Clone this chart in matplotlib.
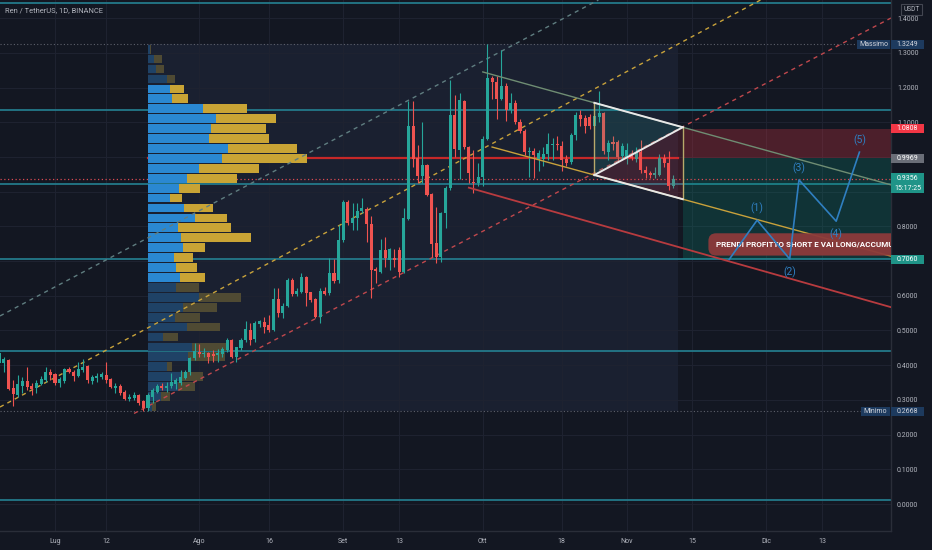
import numpy as np
import pandas as pd
import matplotlib
matplotlib.use("Agg")
import matplotlib.pyplot as plt
import matplotlib.dates as mdates
from matplotlib.patches import Rectangle, Polygon

plt.rcParams['font.family'] = ['Roboto', 'DejaVu Sans']

# ---------------- daily candles REN/USDT (first candle 2021-06-19) ----------------
first_day = "2021-06-19"
opens = [0.407, 0.407, 0.415, 0.333, 0.314, 0.340, 0.354, 0.341, 0.333, 0.346,
         0.357, 0.381, 0.374, 0.350, 0.355, 0.388, 0.381, 0.369, 0.386, 0.398,
         0.355, 0.362, 0.365, 0.372, 0.359, 0.333, 0.340, 0.324, 0.302, 0.305,
         0.314, 0.297, 0.276, 0.309, 0.324, 0.340, 0.335, 0.340, 0.347, 0.350,
         0.362, 0.381, 0.420, 0.439, 0.432, 0.436, 0.431, 0.429, 0.431, 0.444,
         0.473, 0.423, 0.449, 0.473, 0.501, 0.475, 0.519, 0.524, 0.516, 0.501,
         0.591, 0.551, 0.571, 0.646, 0.605, 0.612, 0.655, 0.610, 0.590, 0.540,
         0.615, 0.607, 0.667, 0.646, 0.761, 0.871, 0.809, 0.823, 0.843, 0.849,
         0.806, 0.678, 0.670, 0.732, 0.703, 0.709, 0.732, 0.668, 0.821, 1.089,
         0.996, 0.945, 0.977, 0.893, 0.753, 0.713, 0.838, 0.910, 1.121, 1.020,
         1.162, 1.028, 0.929, 0.924, 0.941, 1.051, 1.229, 1.217, 1.166, 1.206,
         1.134, 1.157, 1.102, 1.076, 1.013, 1.018, 0.993, 0.993, 1.008, 1.034,
         1.037, 1.032, 0.993, 0.987, 1.063, 1.121, 1.111, 1.114, 1.089, 1.114,
         1.126, 1.015, 1.044, 1.044, 1.003, 0.996, 1.006, 0.993, 1.015, 0.963,
         0.953, 0.948, 0.948, 0.996, 0.984, 0.915]
highs = [0.440, 0.425, 0.417, 0.356, 0.372, 0.365, 0.396, 0.350, 0.357, 0.369,
         0.394, 0.388, 0.378, 0.365, 0.391, 0.394, 0.386, 0.410, 0.417, 0.401,
         0.372, 0.377, 0.379, 0.410, 0.362, 0.350, 0.345, 0.329, 0.316, 0.324,
         0.316, 0.300, 0.319, 0.333, 0.346, 0.350, 0.353, 0.377, 0.362, 0.386,
         0.386, 0.425, 0.463, 0.461, 0.449, 0.439, 0.444, 0.446, 0.453, 0.477,
         0.475, 0.453, 0.477, 0.528, 0.523, 0.528, 0.530, 0.540, 0.545, 0.622,
         0.622, 0.578, 0.650, 0.650, 0.622, 0.667, 0.657, 0.612, 0.593, 0.622,
         0.624, 0.708, 0.705, 0.804, 0.876, 0.876, 0.868, 0.867, 0.881, 0.857,
         0.830, 0.684, 0.764, 0.769, 0.739, 0.734, 0.742, 0.854, 1.162, 1.160,
         1.035, 1.102, 0.980, 0.897, 0.857, 0.841, 0.915, 1.222, 1.179, 1.184,
         1.164, 1.032, 1.020, 0.982, 1.061, 1.3249, 1.233, 1.233, 1.308, 1.212,
         1.184, 1.165, 1.110, 1.082, 1.030, 1.025, 1.020, 1.030, 1.070, 1.055,
         1.060, 1.045, 1.005, 1.070, 1.130, 1.135, 1.120, 1.125, 1.140, 1.190,
         1.130, 1.050, 1.060, 1.050, 1.040, 1.040, 1.020, 1.030, 1.050, 0.975,
         0.960, 0.970, 1.010, 1.010, 1.018, 0.948]
lows = [0.405, 0.381, 0.328, 0.281, 0.309, 0.320, 0.329, 0.314, 0.321, 0.343,
        0.353, 0.357, 0.343, 0.336, 0.350, 0.377, 0.355, 0.365, 0.381, 0.350,
        0.346, 0.353, 0.359, 0.350, 0.333, 0.319, 0.314, 0.300, 0.298, 0.300,
        0.285, 0.2668, 0.269, 0.290, 0.321, 0.329, 0.324, 0.333, 0.331, 0.343,
        0.359, 0.372, 0.415, 0.425, 0.425, 0.405, 0.410, 0.410, 0.425, 0.439,
        0.420, 0.410, 0.444, 0.468, 0.458, 0.468, 0.511, 0.492, 0.497, 0.4995,
        0.540, 0.535, 0.569, 0.599, 0.598, 0.609, 0.571, 0.583, 0.535, 0.523,
        0.602, 0.602, 0.638, 0.636, 0.756, 0.804, 0.790, 0.790, 0.838, 0.756,
        0.593, 0.636, 0.665, 0.684, 0.674, 0.684, 0.655, 0.665, 0.818, 0.972,
        0.924, 0.924, 0.888, 0.713, 0.694, 0.698, 0.794, 0.905, 1.001, 0.938,
        1.022, 0.924, 0.895, 0.915, 0.915, 1.049, 1.166, 1.109, 1.164, 1.104,
        1.128, 1.095, 1.068, 1.005, 0.943, 0.940, 0.960, 0.975, 0.990, 0.990,
        1.020, 0.960, 0.975, 0.980, 1.050, 1.090, 1.070, 1.080, 1.080, 1.100,
        1.010, 0.990, 1.020, 0.985, 0.990, 0.980, 0.990, 0.985, 0.955, 0.940,
        0.940, 0.940, 0.945, 0.970, 0.905, 0.910]
closes = [0.434, 0.417, 0.330, 0.317, 0.346, 0.355, 0.338, 0.330, 0.350, 0.359,
          0.381, 0.373, 0.350, 0.359, 0.388, 0.380, 0.369, 0.388, 0.396, 0.357,
          0.365, 0.369, 0.374, 0.357, 0.336, 0.340, 0.319, 0.303, 0.309, 0.314,
          0.290, 0.276, 0.314, 0.329, 0.340, 0.333, 0.340, 0.353, 0.356, 0.365,
          0.381, 0.420, 0.441, 0.431, 0.436, 0.423, 0.427, 0.434, 0.447, 0.473,
          0.423, 0.451, 0.473, 0.503, 0.473, 0.523, 0.526, 0.511, 0.501, 0.591,
          0.550, 0.571, 0.646, 0.605, 0.614, 0.655, 0.609, 0.588, 0.540, 0.615,
          0.605, 0.667, 0.643, 0.761, 0.871, 0.809, 0.825, 0.843, 0.852, 0.806,
          0.674, 0.672, 0.732, 0.708, 0.734, 0.703, 0.668, 0.825, 1.089, 0.994,
          0.945, 0.977, 0.891, 0.749, 0.713, 0.838, 0.912, 1.121, 1.022, 1.164,
          1.028, 0.955, 0.924, 0.943, 1.051, 1.229, 1.217, 1.166, 1.206, 1.135,
          1.157, 1.102, 1.076, 1.013, 1.018, 1.006, 1.011, 1.008, 1.038, 1.037,
          1.034, 0.991, 0.984, 1.063, 1.121, 1.109, 1.089, 1.089, 1.118, 1.128,
          1.018, 1.039, 1.037, 1.001, 1.032, 1.020, 0.996, 1.015, 0.963, 0.953,
          0.948, 0.953, 0.996, 0.982, 0.915, 0.9356]

# ---------------- visible range volume profile (rows listed top -> bottom) ----------------
vp_range = ("2021-07-21", "2021-11-12")
vp_price_high = 1.3249
vp_price_low = 0.2668
vp_up = [2, 6, 8, 19, 22, 24, 55, 68, 63, 61, 79, 74, 51, 39, 31, 22, 36, 47, 30, 33,
         35, 26, 28, 32, 28, 51, 35, 27, 39, 15, 44, 40, 19, 33, 30, 13, 4]
vp_down = [1, 8, 8, 8, 14, 16, 43, 59, 54, 59, 69, 84, 59, 49, 21, 12, 29, 31, 52, 69,
           22, 19, 21, 25, 23, 41, 34, 25, 33, 15, 35, 36, 5, 22, 17, 9, 4]
vp_value_area = (4, 23)
poc_price = 0.996

# ---------------- horizontal levels ----------------
teal_levels = [1.444, 1.135, 0.922, 0.706, 0.441, 0.0115]
last_price = 0.9356
last_time = "15:17:25"

# ---------------- drawings (anchor: date, price) ----------------
up_channel_upper = [("2021-07-19", 0.753), ("2021-09-24", 1.227)]
up_channel_mid = [("2021-06-19", 0.2783), ("2021-11-06", 1.2822)]
up_channel_lower = [("2021-07-18", 0.2610), ("2021-11-17", 1.1150)]
wedge_upper = [("2021-10-01", 1.2451), ("2021-11-13", 1.0857)]
wedge_lower = [("2021-10-03", 1.0287), ("2021-11-13", 0.8784)]
down_channel = [("2021-09-28", 0.9116), ("2021-11-13", 0.7371)]
triangle_dates = ("2021-10-25", "2021-11-13")
position_start = "2021-11-13"
pos_entry, pos_stop, pos_target = 0.9969, 1.0808, 0.7060

elliott_dates = ["2021-11-23", "2021-11-29", "2021-12-06", "2021-12-08", "2021-12-16", "2021-12-21"]
elliott_prices = [0.705, 0.818, 0.706, 0.934, 0.815, 1.014]
elliott_labels = ["", "(1)", "(2)", "(3)", "(4)", "(5)"]

callout_text = "PRENDI PROFITTO SHORT E VAI LONG/ACCUMULA"
callout_anchor = ("2021-11-20 04:00", 0.748)

tick_dates = ["2021-07-01", "2021-07-12", "2021-08-01", "2021-08-16", "2021-09-01", "2021-09-13",
              "2021-10-01", "2021-10-18", "2021-11-01", "2021-11-15", "2021-12-01", "2021-12-13"]
tick_labels = ["Lug", "12", "Ago", "16", "Set", "13", "Ott", "18", "Nov", "15", "Dic", "13"]
price_ticks = [round(0.1 * i, 1) for i in range(15)]
view_dates = ("2021-06-19 04:00", "2021-12-27 19:00")
view_prices = (-0.0778, 1.4524)

# ---------------- style ----------------
BG = "#131722"
GRID = "#1e2230"
TXT = "#b2b5be"
UP, DN = "#26a69a", "#ef5350"
TEAL_LINE = "#23798a"


def dn(s):
    return mdates.date2num(pd.Timestamp(s))


def line_at(line, when):
    (d1, p1), (d2, p2) = line
    x1, x2 = dn(d1), dn(d2)
    return p1 + (p2 - p1) * (when - x1) / (x2 - x1)


fig = plt.figure(figsize=(9.32, 5.5), dpi=100, facecolor=BG)
ax = fig.add_axes([0, 19 / 550, 891 / 932, 531 / 550])
ax.set_facecolor(BG)
x0v, x1v = dn(view_dates[0]), dn(view_dates[1])
ax.set_xlim(x0v, x1v)
ax.set_ylim(*view_prices)
ppx = (view_prices[1] - view_prices[0]) / 531.0
xpx = 1.0 / 891.0

# price-scale tags: (price, text, face, text colour, height px, offset of top above price px)
scale_tags = [
    (vp_price_high, f"{vp_price_high:.4f}", "#1d3a5e", "#d1d4dc", 9, 4.5),
    (pos_stop, f"{pos_stop:.4f}", "#f23645", "#ffffff", 9, 4.5),
    (pos_entry, f"{pos_entry:.4f}", "#6a6e78", "#ffffff", 9, 4.5),
    (last_price, f"{last_price:.4f}\n{last_time}", "#1f9488", "#ffffff", 20, 6),
    (pos_target, f"{pos_target:.4f}", "#1f9488", "#ffffff", 9, 4.5),
    (vp_price_low, f"{vp_price_low:.4f}", "#1d3a5e", "#d1d4dc", 9, 4.5),
]


def hidden_by_tag(p):
    for tp, _, _, _, hg, top in scale_tags:
        ytop = tp + top * ppx
        ybot = ytop - hg * ppx
        if ybot - 2 * ppx <= p <= ytop + 2 * ppx:
            return True
    return False


# grid & axes
ax.set_axisbelow(True)
ax.set_xticks([dn(d) for d in tick_dates])
ax.set_xticklabels(tick_labels)
ax.set_yticks(price_ticks)
ax.set_yticklabels(["" if hidden_by_tag(p) else f"{p:.4f}" for p in price_ticks])
ax.yaxis.tick_right()
ax.grid(True, color=GRID, lw=0.8)
ax.tick_params(axis='both', length=0, labelsize=5, labelcolor=TXT)
ax.tick_params(axis='y', pad=4.3)
ax.tick_params(axis='x', pad=5.0)
for s in ['top', 'left']:
    ax.spines[s].set_visible(False)
for s in ['right', 'bottom']:
    ax.spines[s].set_color('#2a2e39')
    ax.spines[s].set_linewidth(1.0)

# volume profile range background
vx0, vx1 = dn(vp_range[0]), dn(vp_range[1])
ax.add_patch(Rectangle((vx0, vp_price_low), vx1 - vx0, vp_price_high - vp_price_low,
                       fc="#1a2030", ec='none', zorder=0.2))

# horizontal teal levels
for lv in teal_levels:
    ax.axhline(lv, color=TEAL_LINE, lw=1.3, zorder=1)

# Massimo / Minimo dotted lines
for lv in (vp_price_high, vp_price_low):
    ax.plot([x0v, dn("2021-12-22")], [lv, lv], color="#5d606b", lw=0.8, ls=(0, (1, 2)), zorder=1)

# POC line
ax.plot([vx0, vx1], [poc_price, poc_price], color="#c62828", lw=1.6, zorder=1.2)

# last price dotted line
ax.axhline(last_price, color="#d94a52", lw=0.9, ls=(0, (1, 2)), zorder=1.3)

# position tool
px0 = dn(position_start)
ax.add_patch(Rectangle((px0, pos_entry), x1v - px0, pos_stop - pos_entry,
                       fc="#f23645", alpha=0.26, ec='none', zorder=1.1))
ax.add_patch(Rectangle((px0, pos_target), x1v - px0, pos_entry - pos_target,
                       fc="#089981", alpha=0.22, ec='none', zorder=1.1))

# volume profile bars
nrows = len(vp_up)
rh = (vp_price_high - vp_price_low) / nrows
vtot = [u + d for u, d in zip(vp_up, vp_down)]
scale = 0.3 * (vx1 - vx0) / max(vtot)
for i, (u, d) in enumerate(zip(vp_up, vp_down)):
    inside = vp_value_area[0] <= i <= vp_value_area[1]
    cb = "#2a88d2" if inside else "#1f4266"
    cy = "#c9a435" if inside else "#4f4a33"
    y = vp_price_high - (i + 1) * rh + rh * 0.06
    ax.barh(y, u * scale, height=rh * 0.88, left=vx0, align='edge', color=cb, zorder=2)
    ax.barh(y, d * scale, height=rh * 0.88, left=vx0 + u * scale, align='edge', color=cy, zorder=2)

# ascending channel (dashed)
for line, col in ((up_channel_upper, "#5f7d80"), (up_channel_mid, "#c9a33b")):
    (d1, p1), (d2, p2) = line
    ax.axline((dn(d1), p1), (dn(d2), p2), color=col, lw=1.0, ls=(0, (3, 3)), zorder=2.5)
(d1, p1), (d2, p2) = up_channel_lower
ax.plot([dn(d1), x1v], [p1, line_at(up_channel_lower, x1v)], color="#c0484d", lw=1.0,
        ls=(0, (3, 3)), zorder=2.5)

# candles
dates = pd.date_range(first_day, periods=len(opens), freq='D')
xs = mdates.date2num(dates)
o, h, l, c = map(np.asarray, (opens, highs, lows, closes))
cols = np.where(c >= o, UP, DN)
ax.vlines(xs, l, h, colors=cols, lw=0.8, zorder=3)
ax.bar(xs, np.maximum(np.abs(c - o), 0.003), bottom=np.minimum(o, c), width=0.66,
       color=cols, zorder=3.1)

# descending structure
for line, col, lw in ((wedge_upper, "#6f8d73", 1.0), (wedge_lower, "#c8a13b", 1.0),
                      (down_channel, "#b83b3f", 1.3)):
    xa = dn(line[0][0])
    ax.plot([xa, x1v], [line[0][1], line_at(line, x1v)], color=col, lw=lw, zorder=4)

tl, tr = dn(triangle_dates[0]), dn(triangle_dates[1])
A = (tl, line_at(wedge_upper, tl))
B = (tr, line_at(wedge_upper, tr))
C = (tl, line_at(wedge_lower, tl))
D = (tr, line_at(wedge_lower, tr))
ax.add_patch(Polygon([A, B, C], closed=True, fc="#26a69a", alpha=0.16, ec='none', zorder=3.5))
ax.add_patch(Polygon([C, B, D], closed=True, fc="#f23645", alpha=0.16, ec='none', zorder=3.5))
ax.plot([A[0], C[0]], [A[1], C[1]], color="#b8a96a", lw=1.0, zorder=4.2)
ax.plot([B[0], D[0]], [B[1], D[1]], color="#b8a96a", lw=1.0, zorder=4.2)
for P, Q in ((A, B), (C, B), (C, D)):
    ax.plot([P[0], Q[0]], [P[1], Q[1]], color="#e8e8e8", lw=1.4, zorder=4.3)

# callout
ax.text(dn(callout_anchor[0]), callout_anchor[1], callout_text, ha='left', va='center',
        fontsize=5.8, fontweight='bold', color='white', clip_on=True, zorder=5,
        bbox=dict(boxstyle='round,pad=0.95', fc="#8c3a3b", ec='none', alpha=0.95))

# Elliott wave
ex = [dn(d) for d in elliott_dates]
ax.plot(ex, elliott_prices, color="#2f7fc1", lw=1.2, zorder=6)
for i, (xx, yy, lab) in enumerate(zip(ex, elliott_prices, elliott_labels)):
    if not lab:
        continue
    off = 8.5 if i % 2 == 1 else -9.5
    ax.annotate(lab, (xx, yy), xytext=(0, off), textcoords='offset points', ha='center',
                va='center', fontsize=7.5, color="#2f7fc1", zorder=6)

# ---------------- price scale tags ----------------
ytr = ax.get_yaxis_transform()


def tag(price, text, fc, tc, x0=891, w=33, hgt=9, top=4.5):
    yb = price + top * ppx - hgt * ppx
    ax.add_patch(Rectangle((x0 * xpx, yb), w * xpx, hgt * ppx, transform=ytr, fc=fc,
                           ec='none', clip_on=False, zorder=10))
    ax.text((x0 + w / 2) * xpx, yb + hgt * ppx / 2, text, transform=ytr, ha='center',
            va='center', fontsize=5, color=tc, clip_on=False, zorder=11, linespacing=1.5)


for tp, txt, fc, tc, hg, top in scale_tags:
    tag(tp, txt, fc, tc, hgt=hg, top=top)
tag(vp_price_high, "Massimo", "#1d3a5e", "#d1d4dc", x0=857, w=33)
tag(vp_price_low, "Minimo", "#1d3a5e", "#d1d4dc", x0=861, w=29)

# USDT unit box
fig.patches.append(Rectangle((901 / 932, 1 - 14.5 / 550), 21 / 932, 10 / 550,
                             transform=fig.transFigure, fc=BG, ec="#434651", lw=0.8, zorder=5))
fig.text(911.5 / 932, 1 - 9.5 / 550, "USDT", ha='center', va='center', fontsize=4.8,
         color=TXT, zorder=6)

# title
fig.text(5 / 932, 1 - 10.5 / 550, "Ren / TetherUS, 1D, BINANCE", ha='left', va='center',
         fontsize=5.4, color=TXT, zorder=6)

fig.savefig("out.png", dpi=100, facecolor=BG)
